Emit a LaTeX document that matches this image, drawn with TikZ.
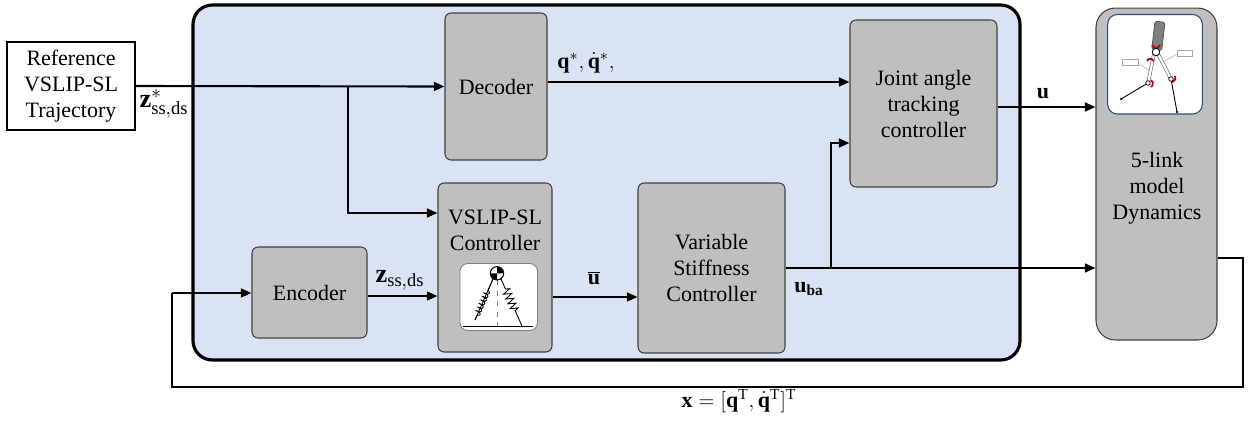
\documentclass[tikz,border=0pt]{standalone}
\usepackage{fontspec}
\setmainfont{Liberation Serif}
\usetikzlibrary{arrows.meta,decorations.pathmorphing}

\definecolor{panelblue}{HTML}{DAE3F3}
\definecolor{blockgray}{HTML}{BFBFBF}
\definecolor{blockedge}{HTML}{404040}
\definecolor{framenavy}{HTML}{2F4F75}
\definecolor{jointred}{HTML}{C00000}
\definecolor{torsogray}{HTML}{808080}

\begin{document}
\begin{tikzpicture}[x=0.02cm,y=-0.02cm,
		font=\fontsize{12.5}{14.8}\selectfont,
		block/.style={draw=blockedge,fill=blockgray,line width=0.6pt,rounded corners=3.5pt,inner sep=0pt,align=center},
		sig/.style={line width=1.2pt,-{Triangle[length=6pt,width=5pt]}},
		wire/.style={line width=1.2pt},
		lbl/.style={inner sep=1pt},
		biglbl/.style={inner sep=1pt,font=\fontsize{15}{18}\selectfont}]
	\useasboundingbox (0,0) rectangle (1248,427);

	% controller panel
	\draw[line width=1.8pt,fill=panelblue,rounded corners=11pt] (193,5) rectangle (1020,360);

	% blocks
	\node[draw,fill=white,line width=0.6pt,minimum width=2.56cm,minimum height=1.76cm,align=center] (ref) at (71,86) {Reference\\VSLIP-SL\\Trajectory};
	\node[block,minimum width=2.04cm,minimum height=2.94cm] (dec) at (496,86.5) {Decoder};
	\node[block,minimum width=2.94cm,minimum height=3.34cm] (jat) at (923.5,103.5) {Joint angle\\tracking\\controller};
	\node[block,minimum width=2.28cm,minimum height=3.38cm] (vsl) at (495,267.5) {};
	\node[align=center] (vsltxt) at (495,230) {VSLIP-SL\\Controller};
	\node[block,minimum width=2.30cm,minimum height=1.82cm] (enc) at (309.5,292.5) {Encoder};
	\node[block,minimum width=2.94cm,minimum height=3.40cm] (vsc) at (711.5,268) {Variable\\Stiffness\\Controller};
	\node[block,rounded corners=11pt,minimum width=2.42cm,minimum height=6.64cm] (dyn) at (1156.5,174) {};
	\node[align=center] (dyntxt) at (1157,188) {5-link\\model\\Dynamics};

	% SLIP sketch inside the VSLIP-SL block
	\draw[draw=torsogray,fill=white,line width=0.5pt,rounded corners=4.5pt] (460,263.5) rectangle (537.5,330.5);
	\draw[dashed,gray,line width=0.5pt] (497,280) -- (497,326);
	\draw[line width=0.5pt] (493,279) -- (475,320);
	\draw[line width=0.5pt,decorate,decoration={coil,aspect=0.4,segment length=2.2pt,amplitude=1.4pt,pre length=0.25cm,post length=0.05cm}] (493,279) -- (475,320);
	\draw[line width=0.5pt,decorate,decoration={zigzag,segment length=3pt,amplitude=2.2pt,pre length=0.22cm,post length=0.32cm}] (501,279) -- (522,326);
	\draw[line width=0.9pt] (463,326.5) -- (533,326.5);
	\fill (497,273.3) -- ++(0.134cm,0) arc[start angle=0,end angle=90,radius=0.134cm] -- cycle;
	\fill (497,273.3) -- ++(-0.134cm,0) arc[start angle=180,end angle=270,radius=0.134cm] -- cycle;
	\draw[line width=0.6pt] (497,273.3) circle[radius=0.134cm];

	% five-link robot sketch inside the dynamics block
	\draw[draw=framenavy,fill=white,line width=0.6pt,rounded corners=5.5pt] (1107.7,14.5) rectangle (1202.3,114);
	\draw[gray!70,line width=0.3pt] (1138,63) -- (1150,71);
	\draw[gray!70,line width=0.3pt] (1177,54) -- (1163,62);
	\draw[gray!70,fill=white,line width=0.4pt] (1122,59.5) rectangle (1138,65.5);
	\draw[gray!70,fill=white,line width=0.4pt] (1177,50) rectangle (1192,56.5);
	\draw[line width=0.5pt] (1148,83) -- (1121,99);
	\fill (1121,99) circle[radius=0.025cm];
	\draw[line width=0.5pt] (1171,79) -- (1177,112);
	\fill (1177,112) circle[radius=0.025cm];
	\draw[draw=gray!80!black,double=white,double distance=1.3pt,line width=0.35pt] (1154,54) -- (1148,83);
	\draw[draw=gray!80!black,double=white,double distance=1.3pt,line width=0.35pt] (1158,54) -- (1171,79);
	\draw[fill=torsogray,draw=gray!60!black,line width=0.4pt,rounded corners=1pt] (1155,21.1) -- (1165,22.3) -- (1161.7,50.6) -- (1151.7,49.4) -- cycle;
	\draw[jointred,line width=1pt] (1152,45) arc[start angle=200,end angle=340,radius=0.09cm];
	\draw[jointred,line width=1pt] (1147,61) arc[start angle=160,end angle=20,radius=0.07cm];
	\draw[jointred,line width=1pt] (1151,80) arc[start angle=60,end angle=-60,radius=0.08cm];
	\draw[jointred,line width=1pt] (1175,76) arc[start angle=30,end angle=-90,radius=0.08cm];
	\draw[fill=white,line width=0.5pt] (1156,52) circle[radius=0.075cm];
	\draw[fill=white,line width=0.4pt] (1148,83) circle[radius=0.045cm];
	\draw[fill=white,line width=0.4pt] (1171,79) circle[radius=0.045cm];

	% signal paths
	\coordinate (split1) at (348,86.5);
	\coordinate (split2) at (831,268);
	\draw[sig] (ref.east) -- (dec.west);
	\draw[sig] (split1) |- (vsl.west |- 0,213);
	\draw[sig] (dec.east |- 0,82) -- (jat.west |- 0,82);
	\draw[sig] (enc.east |- 0,296) -- (vsl.west |- 0,296);
	\draw[sig] (vsl.east |- 0,297) -- (vsc.west |- 0,297);
	\draw[sig] (vsc.east |- 0,268) -- (dyn.west |- 0,268);
	\draw[sig] (split2) |- (jat.west |- 0,143);
	\draw[sig] (jat.east |- 0,107) -- (dyn.west |- 0,107);

	% state feedback
	\coordinate (fb1) at (1243,258);
	\coordinate (fb2) at (1243,387);
	\coordinate (fb3) at (172,387);
	\coordinate (fb4) at (172,293);
	\draw[wire] (dyn.east |- fb1) -- (fb1) -- (fb2) -- (fb3) -- (fb4);
	\draw[sig] (fb4) -- (enc.west |- fb4);

	% signal labels
	\node[biglbl] (zref) at (164,104) {$\mathbf{z}^*_{\mathrm{ss,ds}}$};
	\node[lbl] (qref) at (586,63) {$\mathbf{q}^*,\dot{\mathbf{q}}^*,$};
	\node[biglbl] (zss) at (400,280) {$\mathbf{z}_{\mathrm{ss,ds}}$};
	\node[lbl] (ubar) at (594,278) {$\overline{\mathbf{u}}$};
	\node[lbl] (uba) at (809,289) {$\mathbf{u}_{\mathbf{ba}}$};
	\node[lbl] (uout) at (1043,94) {$\mathbf{u}$};
	\node[lbl] (xfb) at (739,401) {$\mathbf{x}=[\mathbf{q}^{\mathrm{T}},\dot{\mathbf{q}}^{\mathrm{T}}]^{\mathrm{T}}$};
\end{tikzpicture}
\end{document}
